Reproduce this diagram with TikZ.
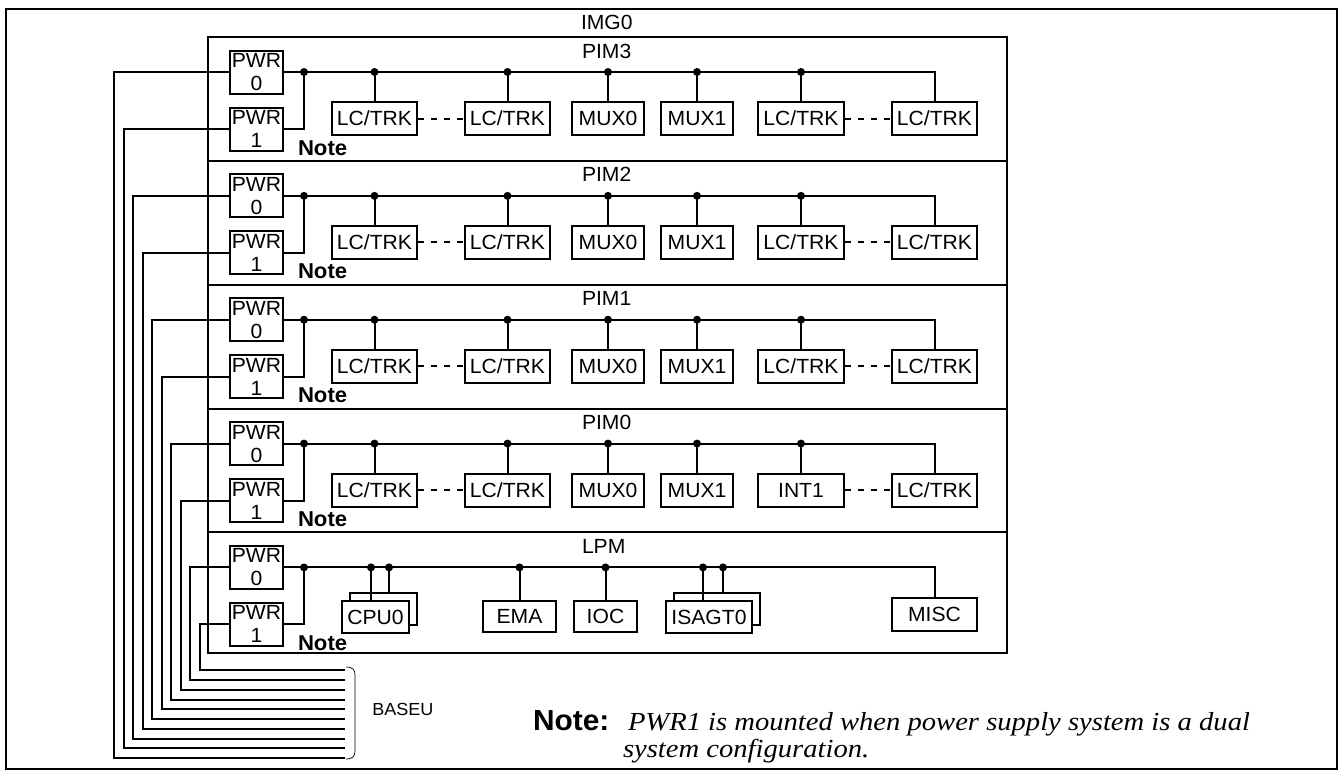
\documentclass[tikz,border=0pt]{standalone}
\usepackage{fontspec}
\setmainfont[FakeStretch=1.03]{Liberation Sans}
\newfontfamily\notefont[FakeStretch=1.1]{Liberation Serif}
\newcommand\lctrk{LC/TRK}

\tikzset{
  pwrbox/.style={draw, fill=white, minimum width=53pt, minimum height=43pt, inner sep=0pt, align=center},
  modbox/.style={draw, fill=white, minimum height=33pt, inner sep=0pt},
  notelbl/.style={font=\fontsize{21.5}{24}\selectfont\bfseries, inner sep=0pt},
  dashlink/.style={dash pattern=on 6pt off 7pt},
}

\begin{document}
\begin{tikzpicture}[x=1pt, y=-1pt, line width=2pt, every node/.style={font=\fontsize{20.5}{23}\selectfont}]
\useasboundingbox (0,0) rectangle (1340,772);
\draw (6,9) rectangle (1337,769);
\draw (208,37) rectangle (1007,653);
\node[anchor=base west, inner sep=0pt] (img0) at (580,29) {IMG0};

% power supplies and cables of each unit
\foreach \i/\sec in {0/PIM3,1/PIM2,2/PIM1,3/PIM0,4/LPM} {
  \pgfmathsetmacro\ytop{37+123.85*\i}
  \draw (208,\ytop) -- (1007,\ytop);
  \node[anchor=base west, inner sep=0pt] (lbl\i) at (581,\ytop+21) {\sec};
  \node[pwrbox] (pwra\i) at (256.5,\ytop+35) {PWR\\0};
  \node[pwrbox] (pwrb\i) at (256.5,\ytop+92) {PWR\\1};
  \node[notelbl, anchor=base west] (note\i) at (297,\ytop+118) {Note};
  \coordinate (bus\i) at (304,\ytop+35);
  \draw (pwrb\i.east) -| (bus\i);
  \fill (bus\i) circle (4pt);
  \coordinate (ba\i) at (345,758-19.5*\i);
  \coordinate (bb\i) at (345,748.25-19.5*\i);
  \draw (pwra\i.west) -- ++(-115+19*\i,0) |- (ba\i);
  \draw (pwrb\i.west) -- ++(-105.5+19*\i,0) |- (bb\i);
}

% PIM units
\foreach \i/\modv in {0/\lctrk,1/\lctrk,2/\lctrk,3/INT1} {
  \pgfmathsetmacro\ytop{37+123.85*\i}
  \node[modbox, minimum width=85pt] (lca\i) at (374.5,\ytop+81.5) {\lctrk};
  \node[modbox, minimum width=85pt] (lcb\i) at (507.5,\ytop+81.5) {\lctrk};
  \node[modbox, minimum width=72pt] (muxa\i) at (608,\ytop+81.5) {MUX0};
  \node[modbox, minimum width=72pt] (muxb\i) at (697,\ytop+81.5) {MUX1};
  \node[modbox, minimum width=86pt] (lcc\i) at (801,\ytop+81.5) {\modv};
  \node[modbox, minimum width=85pt] (lcd\i) at (934.5,\ytop+81.5) {\lctrk};
  \draw (pwra\i.east) -| (lcd\i.north);
  \foreach \m in {lca,lcb,muxa,muxb,lcc} {
    \draw (\m\i.north) -- (\m\i.north |- bus\i);
    \fill (\m\i.north |- bus\i) circle (4pt);
  }
  \draw[dashlink] (lca\i.east) -- (lcb\i.west);
  \draw[dashlink] (lcc\i.east) -- (lcd\i.west);
}

% LPM
\node[modbox, minimum width=67pt, minimum height=32pt] (cpu0b) at (383.5,609) {};
\node[modbox, minimum width=67pt, minimum height=32pt] (cpu0) at (375.5,617) {CPU0};
\node[modbox, minimum width=73pt, minimum height=31pt] (ema) at (519.5,616.5) {EMA};
\node[modbox, minimum width=63pt, minimum height=31pt] (ioc) at (605.5,616.5) {IOC};
\node[modbox, minimum width=86pt, minimum height=32pt] (isagt0b) at (717,609) {};
\node[modbox, minimum width=86pt, minimum height=32pt] (isagt0) at (709,617) {ISAGT0};
\node[modbox, minimum width=85pt] (misc) at (934.5,614.5) {MISC};
\draw (pwra4.east) -| (misc.north);
\coordinate (cpua) at ([xshift=-4.5pt]cpu0.north);
\coordinate (cpub) at ([xshift=5.5pt]cpu0b.north);
\coordinate (isaa) at ([xshift=-6pt]isagt0.north);
\coordinate (isab) at ([xshift=6pt]isagt0b.north);
\foreach \a in {cpua, cpub, ema.north, ioc.north, isaa, isab} {
  \draw (\a) -- (\a |- bus4);
  \fill (\a |- bus4) circle (4pt);
}

% BASEU
\draw[line width=0.7pt] (346,667) .. controls (353,667) and (355,670) .. (355,675) -- (355,751)
  .. controls (355,756) and (353,759) .. (346,759);
\node[anchor=west, font=\fontsize{17.5}{20}\selectfont] (baseu) at (368,709) {BASEU};

\node[anchor=base west, inner sep=0pt, font=\fontsize{29}{32}\selectfont\bfseries] (notehd) at (532,730) {Note:};
\node[anchor=base west, inner sep=0pt, font=\notefont\itshape\fontsize{26}{29}\selectfont] (notea) at (627,730)
  {PWR1 is mounted when power supply system is a dual};
\node[anchor=base west, inner sep=0pt, font=\notefont\itshape\fontsize{26}{29}\selectfont] (noteb) at (622,757)
  {system configuration.};
\end{tikzpicture}
\end{document}
